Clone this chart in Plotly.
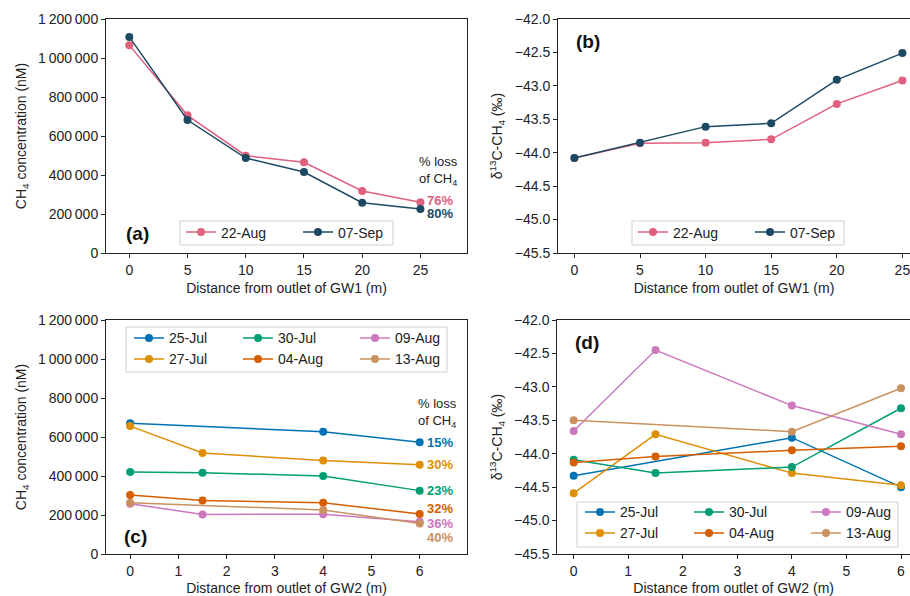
import plotly.graph_objects as go

# ---------------- data ----------------
gw1_dist = [0, 5, 10, 15, 20, 25]
gw1_dates = ["22-Aug", "07-Sep"]
gw1_conc = {
    "22-Aug": [1066000, 706000, 499000, 465000, 318000, 260000],
    "07-Sep": [1108000, 682000, 487000, 415000, 258000, 226000],
}
gw1_d13c = {
    "22-Aug": [-44.08, -43.86, -43.85, -43.80, -43.27, -42.92],
    "07-Sep": [-44.08, -43.85, -43.61, -43.56, -42.91, -42.51],
}
gw1_loss = {"22-Aug": "76%", "07-Sep": "80%"}

gw2_dates = ["25-Jul", "27-Jul", "30-Jul", "04-Aug", "09-Aug", "13-Aug"]
gw2_dist = {
    "25-Jul": [0, 4, 6],
    "27-Jul": [0, 1.5, 4, 6],
    "30-Jul": [0, 1.5, 4, 6],
    "04-Aug": [0, 1.5, 4, 6],
    "09-Aug": [0, 1.5, 4, 6],
    "13-Aug": [0, 4, 6],
}
gw2_conc = {
    "25-Jul": [670000, 627000, 573000],
    "27-Jul": [656000, 518000, 480000, 458000],
    "30-Jul": [421000, 417000, 400000, 325000],
    "04-Aug": [303000, 275000, 263000, 205000],
    "09-Aug": [258000, 203000, 204000, 166000],
    "13-Aug": [263000, 226000, 157000],
}
gw2_d13c = {
    "25-Jul": [-44.33, -43.76, -44.50],
    "27-Jul": [-44.59, -43.71, -44.29, -44.47],
    "30-Jul": [-44.09, -44.29, -44.20, -43.32],
    "04-Aug": [-44.13, -44.04, -43.95, -43.89],
    "09-Aug": [-43.66, -42.45, -43.28, -43.71],
    "13-Aug": [-43.50, -43.67, -43.02],
}
gw2_loss = {"25-Jul": "15%", "27-Jul": "30%", "30-Jul": "23%",
            "04-Aug": "32%", "09-Aug": "36%", "13-Aug": "40%"}

# ---------------- styles ----------------
gw1_colors = {"22-Aug": "#E0607E", "07-Sep": "#1D4A63"}
gw2_colors = {"25-Jul": "#0173B2", "27-Jul": "#DE8F05", "30-Jul": "#029E73",
              "04-Aug": "#D55E00", "09-Aug": "#CC78BC", "13-Aug": "#CA9161"}
FONT = "Liberation Sans, Arial, Helvetica, sans-serif"
W, H = 910, 596

def px_x(p):
    return p / W

def px_y(p):
    return 1 - p / H

fig = go.Figure()

gw1_lw = {"22-Aug": 72, "07-Sep": 50}
for d in gw1_dates:
    fig.add_trace(go.Scatter(x=gw1_dist, y=gw1_conc[d], name=d, mode="lines+markers",
                             line=dict(color=gw1_colors[d], width=1.5),
                             marker=dict(size=8, color=gw1_colors[d]),
                             xaxis="x", yaxis="y", legend="legend", legendwidth=gw1_lw[d]))
for d in gw1_dates:
    fig.add_trace(go.Scatter(x=gw1_dist, y=gw1_d13c[d], name=d, mode="lines+markers",
                             line=dict(color=gw1_colors[d], width=1.5),
                             marker=dict(size=8, color=gw1_colors[d]),
                             xaxis="x2", yaxis="y2", legend="legend2", legendwidth=gw1_lw[d]))

row1 = ["25-Jul", "30-Jul", "09-Aug"]
row2 = ["27-Jul", "04-Aug", "13-Aug"]
colw = [64, 72, 60]

def leg_for(d, first, second):
    return first if d in row1 else second

def lw_for(d):
    idx = row1.index(d) if d in row1 else row2.index(d)
    return colw[idx]

order = row1 + row2
for d in gw2_dates:
    fig.add_trace(go.Scatter(x=gw2_dist[d], y=gw2_conc[d], name=d, mode="lines+markers",
                             line=dict(color=gw2_colors[d], width=1.5),
                             marker=dict(size=8, color=gw2_colors[d]),
                             xaxis="x3", yaxis="y3", legend=leg_for(d, "legend3", "legend4"),
                             legendwidth=lw_for(d), legendrank=order.index(d)))
for d in gw2_dates:
    fig.add_trace(go.Scatter(x=gw2_dist[d], y=gw2_d13c[d], name=d, mode="lines+markers",
                             line=dict(color=gw2_colors[d], width=1.5),
                             marker=dict(size=8, color=gw2_colors[d]),
                             xaxis="x4", yaxis="y4", legend=leg_for(d, "legend5", "legend6"),
                             legendwidth=lw_for(d), legendrank=order.index(d)))

axis_common = dict(showgrid=False, zeroline=False, showline=True, linecolor="#222",
                   linewidth=1, ticks="outside", ticklen=4, tickwidth=1, tickcolor="#222",
                   automargin=False, ticklabeloverflow="allow",
                   tickfont=dict(size=14, color="#222"), title_font=dict(size=14, color="#222"))

xa_dom = [px_x(106), px_x(467)]
xb_dom = [px_x(558), 1.0]
xd_dom = [px_x(557.3), 1.0]
ytop_dom = [px_y(253), px_y(19)]
ybot_dom = [px_y(554), px_y(320)]

ytxt_conc = "CH<sub>4</sub> concentration (nM)"
ytxt_d13 = "δ<sup>13</sup>C-CH<sub>4</sub> (‰)"

fig.update_layout(
    width=W, height=H, margin=dict(l=0, r=0, t=0, b=0, autoexpand=False),
    paper_bgcolor="white", plot_bgcolor="white",
    font=dict(family=FONT, size=14, color="#222"),
    separators=".\u2009",
    xaxis=dict(axis_common, domain=xa_dom, anchor="y", range=[-2, 29], dtick=5, mirror=True,
               title=dict(text="Distance from outlet of GW1 (m)", standoff=6)),
    yaxis=dict(axis_common, domain=ytop_dom, anchor="x", range=[0, 1200000], dtick=200000,
               tickformat=",d", mirror=True, title=dict(text=ytxt_conc, standoff=8)),
    xaxis2=dict(axis_common, domain=xb_dom, anchor="y2", range=[-1.25, 25.58], dtick=5, mirror=True,
                title=dict(text="Distance from outlet of GW1 (m)", standoff=6)),
    yaxis2=dict(axis_common, domain=ytop_dom, anchor="x2", range=[-45.5, -42], dtick=0.5,
                tickformat=".1f", title=dict(text=ytxt_d13, standoff=8)),
    xaxis3=dict(axis_common, domain=xa_dom, anchor="y3", range=[-0.5, 6.98], dtick=1, mirror=True,
                title=dict(text="Distance from outlet of GW2 (m)", standoff=6)),
    yaxis3=dict(axis_common, domain=ybot_dom, anchor="x3", range=[0, 1200000], dtick=200000,
                tickformat=",d", mirror=True, title=dict(text=ytxt_conc, standoff=8)),
    xaxis4=dict(axis_common, domain=xd_dom, anchor="y4", range=[-0.3, 6.165], dtick=1, mirror=True,
                title=dict(text="Distance from outlet of GW2 (m)", standoff=6)),
    yaxis4=dict(axis_common, domain=ybot_dom, anchor="x4", range=[-45.5, -42], dtick=0.5,
                tickformat=".1f", title=dict(text=ytxt_d13, standoff=8)),
)

leg_base = dict(orientation="h", xanchor="left", yanchor="middle", font=dict(size=14, color="#222"),
                bgcolor="rgba(0,0,0,0)", borderwidth=0, itemclick=False, tracegroupgap=0)
fig.update_layout(
    legend=dict(leg_base, x=px_x(181), y=px_y(232.5)),
    legend2=dict(leg_base, x=px_x(633), y=px_y(232.5)),
    legend3=dict(leg_base, x=px_x(129), y=px_y(338.3)),
    legend4=dict(leg_base, x=px_x(129), y=px_y(359.3)),
    legend5=dict(leg_base, x=px_x(580), y=px_y(512.3)),
    legend6=dict(leg_base, x=px_x(580), y=px_y(533.3)),
)

# legend frames
for x0, x1, y0, y1 in [(180, 393, 245, 221), (632, 844, 245, 221),
                       (126, 447, 372, 327), (577, 898, 547, 502)]:
    fig.add_shape(type="rect", xref="paper", yref="paper", x0=px_x(x0), x1=px_x(x1),
                  y0=px_y(y0), y1=px_y(y1), line=dict(color="#d0d0d0", width=1),
                  fillcolor="rgba(255,255,255,0.8)", layer="above")

# panel labels
for lab, xr, yr, xx, yy in [("(a)", "x domain", "y domain", 0.05, 0.085),
                            ("(b)", "x2 domain", "y2 domain", 0.045, 0.902),
                            ("(c)", "x3 domain", "y3 domain", 0.044, 0.073),
                            ("(d)", "x4 domain", "y4 domain", 0.045, 0.905)]:
    fig.add_annotation(text=f"<b>{lab}</b>", xref=xr, yref=yr, x=xx, y=yy, xanchor="left",
                       yanchor="middle", showarrow=False, font=dict(size=19, color="#111"))

# "% loss of CH4" headers
for xr, yr, xx, yy in [("x domain", "y domain", 0.861, 0.352),
                       ("x3 domain", "y3 domain", 0.859, 0.602)]:
    fig.add_annotation(text="% loss<br>of CH<sub>4</sub>", xref=xr, yref=yr, x=xx, y=yy,
                       xanchor="left", yanchor="middle", align="left", showarrow=False,
                       font=dict(size=13, color="#222"))

# loss percentages next to last points
gw1_shift = {"22-Aug": 2, "07-Sep": -5}
for d in gw1_dates:
    fig.add_annotation(text=f"<b>{gw1_loss[d]}</b>", xref="x", yref="y", x=gw1_dist[-1],
                       y=gw1_conc[d][-1], xanchor="left", yanchor="middle", xshift=5,
                       yshift=gw1_shift[d], showarrow=False, font=dict(size=13, color=gw1_colors[d]))
gw2_shift = {"25-Jul": 0, "27-Jul": 0, "30-Jul": 0, "04-Aug": 6, "09-Aug": -2, "13-Aug": -14}
for d in gw2_dates:
    fig.add_annotation(text=f"<b>{gw2_loss[d]}</b>", xref="x3", yref="y3", x=gw2_dist[d][-1],
                       y=gw2_conc[d][-1], xanchor="left", yanchor="middle", xshift=5,
                       yshift=gw2_shift[d], showarrow=False, font=dict(size=13, color=gw2_colors[d]))

fig.write_html("out.html")
